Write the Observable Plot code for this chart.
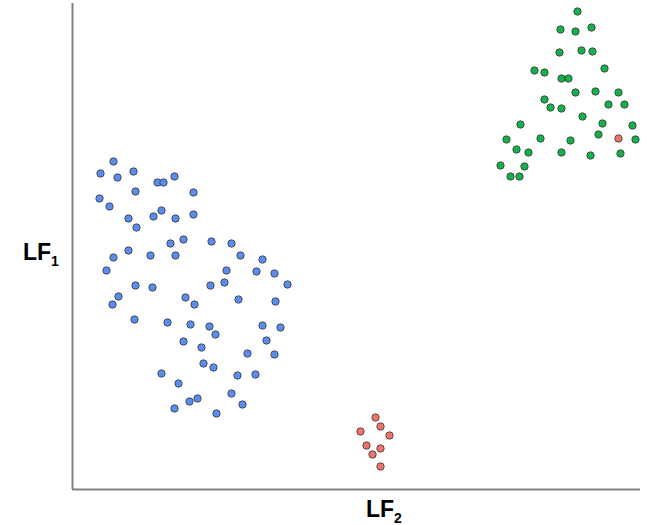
<!DOCTYPE html>
<html>
<head>
<meta charset="utf-8">
<script src="https://cdn.jsdelivr.net/npm/d3@7"></script>
<script src="https://cdn.jsdelivr.net/npm/@observablehq/plot@0.6"></script>
<style>
  html, body { margin: 0; padding: 0; background: #fff; }
  #chart svg { display: block; }
</style>
</head>
<body>
<div id="chart"></div>
<script>
// LF2 (horizontal) and LF1 (vertical) scores, arbitrary units
const blueLF2 = [41,28,45,61,85,91,102,63,121,27,37,56,81,89,103,121,64,111,98,139,159,56,41,78,103,168,190,34,154,184,202,63,80,138,152,215,46,40,113,122,166,203,62,95,118,137,143,190,208,111,129,194,175,202,131,141,165,183,89,106,159,125,117,102,170,144];
const blueLF1 = [328,316,312,318,307,307,313,298,297,291,283,271,273,279,271,275,262,250,246,248,246,239,232,234,234,234,230,219,219,218,216,204,202,204,207,205,193,185,192,185,190,188,170,167,165,163,155,164,162,148,142,149,136,135,126,122,114,115,116,106,96,91,88,81,85,76];

const greenLF2 = [505,488,503,519,487,509,520,462,472,532,489,496,503,523,546,472,478,489,536,552,510,448,530,560,434,468,498,526,563,444,456,489,518,548,428,452,438,447];
const greenLF1 = [478,460,458,462,437,439,438,419,417,421,411,411,397,398,397,390,382,381,385,385,373,365,366,364,350,351,349,355,350,340,337,337,334,336,324,323,313,313];

const redLF2 = [546,303,308,288,317,294,308,300,308];
const redLF1 = [351,72,63,58,54,44,41,35,23];

const groups = ["Group 1", "Group 2", "Group 3"];
const groupColors = ["#5b8def", "#17b14b", "#ef736b"];

const rows = [];
blueLF2.forEach((v, i) => rows.push({lf2: v, lf1: blueLF1[i], g: groups[0]}));
greenLF2.forEach((v, i) => rows.push({lf2: v, lf1: greenLF1[i], g: groups[1]}));
redLF2.forEach((v, i) => rows.push({lf2: v, lf1: redLF1[i], g: groups[2]}));

const plot = Plot.plot({
  width: 647,
  height: 525,
  marginLeft: 72,
  marginRight: 7,
  marginTop: 3,
  marginBottom: 36,
  x: {domain: [0, 568], axis: null},
  y: {domain: [0, 486], axis: null},
  color: {type: "ordinal", domain: groups, range: groupColors},
  style: {background: "#fff", overflow: "visible"},
  marks: [
    Plot.dot(rows, {x: "lf2", y: "lf1", r: 3.7, fill: "g", stroke: "#333", strokeWidth: 0.8}),
    Plot.ruleX([0], {stroke: "#808080", strokeWidth: 2}),
    Plot.ruleY([0], {stroke: "#808080", strokeWidth: 2})
  ]
});

const svg = d3.select(plot);
function addLabel(x, y, main, sub) {
  const t = svg.append("text")
    .attr("x", x).attr("y", y)
    .attr("text-anchor", "start")
    .style("font-family", "'Liberation Sans', Arial, sans-serif")
    .style("font-weight", "bold")
    .style("font-size", "23px")
    .attr("fill", "#000");
  t.append("tspan").text(main);
  t.append("tspan").style("font-size", "14px").attr("dy", 6).text(sub);
}
addLabel(23, 260, "LF", "1");
addLabel(366, 517, "LF", "2");

document.getElementById("chart").appendChild(plot);
</script>
</body>
</html>
